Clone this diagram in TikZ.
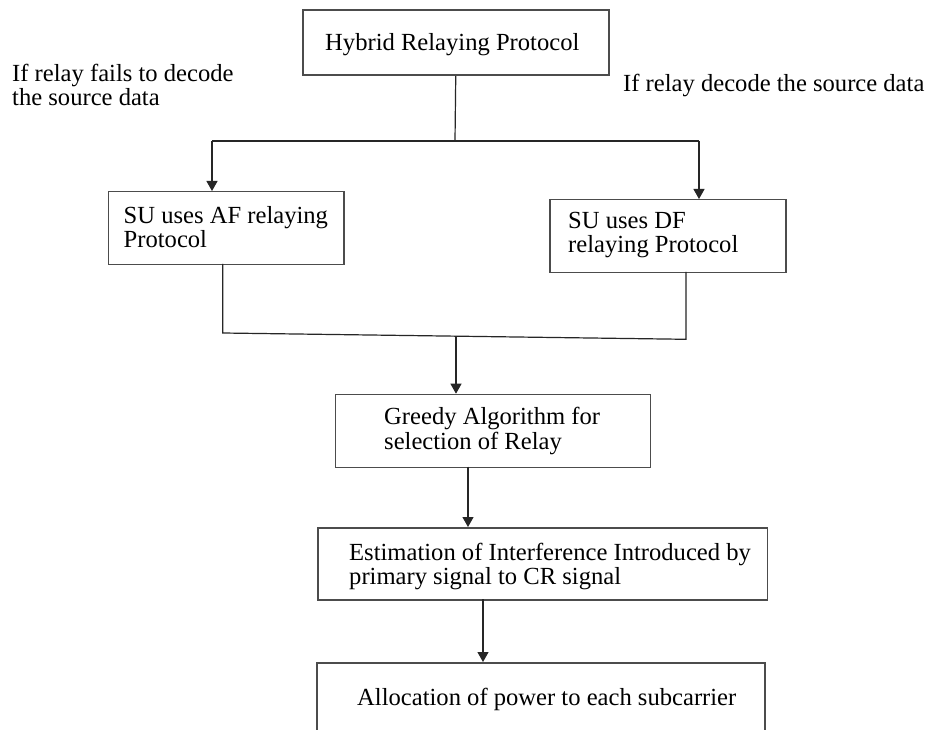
\documentclass[tikz,border=0pt]{standalone}
\usepackage{fontspec}
\setmainfont{Liberation Serif}
\usetikzlibrary{arrows.meta}
\begin{document}
\begin{tikzpicture}[x=1pt,y=-1pt,
  box/.style={draw=black!70,line width=1.5pt,anchor=north west,inner sep=0pt,fill=none},
  txt/.style={anchor=base west,align=left,inner sep=0pt,font=\fontsize{24.6}{24.5}\selectfont},
  link/.style={draw=black!85,line width=1.2pt},
  arr/.style={link,-{Triangle[length=10pt,width=11pt]}}]
\clip (0,0) rectangle (927,730);
\fill[white] (0,0) rectangle (927,730);
% boxes
\node[box,minimum width=306pt,minimum height=65pt] (hybrid) at (302,9.5) {};
\node[box,minimum width=235.5pt,minimum height=73pt] (af) at (107.5,191) {};
\node[box,minimum width=236pt,minimum height=73pt] (df) at (549,199) {};
\node[box,minimum width=315pt,minimum height=73pt] (greedy) at (334.7,393.7) {};
\node[box,minimum width=449.3pt,minimum height=72pt] (est) at (317.4,527) {};
\node[box,minimum width=448pt,minimum height=100pt] (alloc) at (316,662) {};
% texts (multi-line nodes: anchor at baseline of last line)
\node[txt] (hybridT) at (325,51) {Hybrid Relaying Protocol};
\node[txt] (leftT) at (12,106) {If relay fails to decode\\the source data};
\node[txt] (rightT) at (623,92) {If relay decode the source data};
\node[txt] (afT) at (123.5,248) {SU uses AF relaying\\Protocol};
\node[txt] (dfT) at (568,253) {SU uses DF\\relaying Protocol};
\node[txt] (greedyT) at (384,449) {Greedy Algorithm for\\selection of Relay};
\node[txt] (estT) at (349,584.5) {Estimation of Interference Introduced by\\primary signal to CR signal};
\node[txt] (allocT) at (357,705) {Allocation of power to each subcarrier};
% connectors
\coordinate (jL) at (212,141);
\coordinate (jR) at (699,141);
\coordinate (jC) at (455,141);
\draw[link] (hybrid.south) -- (jC);
\draw[link] (jL) -- (jR);
\draw[arr] (jL) -- (jL |- af.north);
\draw[arr] (jR) -- (jR |- df.north);
\coordinate (afB) at (222.7,264);
\coordinate (dfB) at (686,272);
\coordinate (mL) at (222.7,333);
\coordinate (mR) at (686,339.3);
\coordinate (mC) at (456,336.1);
\draw[link] (afB) -- (mL) -- (mR) -- (dfB);
\draw[arr] (mC) -- (mC |- greedy.north);
\coordinate (gB) at (468,466.7);
\draw[arr] (gB) -- (gB |- est.north);
\coordinate (eB) at (483,599);
\draw[arr] (eB) -- (eB |- alloc.north);
\end{tikzpicture}
\end{document}
